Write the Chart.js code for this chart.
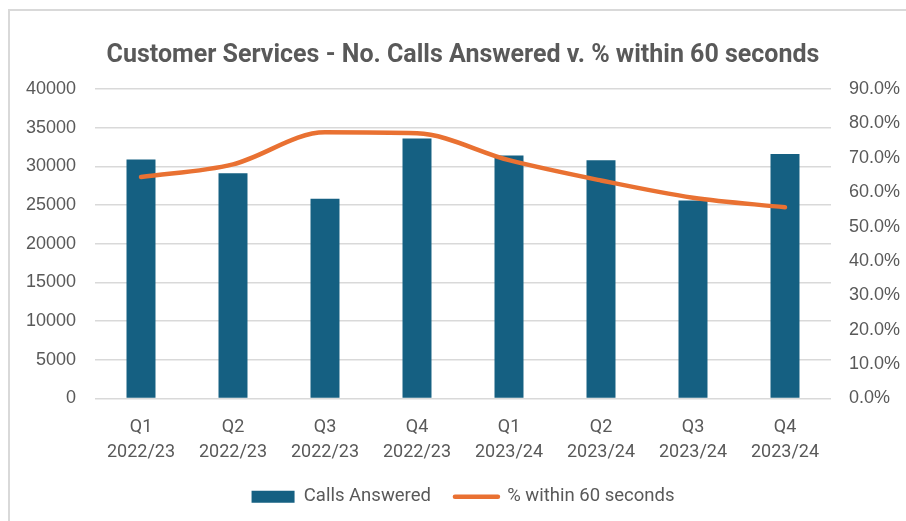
<!DOCTYPE html>
<html>
<head>
<meta charset="utf-8">
<script src="https://cdn.jsdelivr.net/npm/chart.js@4"></script>
<style>
  html, body { margin: 0; padding: 0; background: #fff; }
  #wrap { position: relative; width: 906px; height: 521px; overflow: hidden; }
  #frame { position: absolute; left: 8px; top: 9px; width: 1000px; height: 1000px; border: 2px solid #d9d9d9; pointer-events: none; }
  canvas { position: absolute; left: 0; top: 0; }
</style>
</head>
<body>
<div id="wrap">
  <div id="frame"></div>
  <canvas id="chart" width="906" height="521"></canvas>
</div>
<script>
const quarters = ['Q1', 'Q2', 'Q3', 'Q4', 'Q1', 'Q2', 'Q3', 'Q4'];
const years = ['2022/23', '2022/23', '2022/23', '2022/23', '2023/24', '2023/24', '2023/24', '2023/24'];
const callsAnswered = [30900, 29100, 25800, 33600, 31400, 30800, 25600, 31600];
const pctWithin60 = [0.644, 0.681, 0.774, 0.771, 0.693, 0.634, 0.584, 0.556];
const leftTicks = [0, 40000, 5000];
const rightTicks = [0, 0.9, 0.1];

const textGrey = '#595959';
const gridGrey = '#d9d9d9';

const ctx = document.getElementById('chart');
new Chart(ctx, {
  type: 'bar',
  data: {
    labels: quarters.map((q, i) => [q, years[i]]),
    datasets: [
      {
        type: 'bar',
        label: 'Calls Answered',
        data: callsAnswered,
        backgroundColor: '#156082',
        yAxisID: 'y',
        barPercentage: 0.315,
        categoryPercentage: 1,
        order: 2
      },
      {
        type: 'line',
        label: '% within 60 seconds',
        data: pctWithin60,
        borderColor: '#E97132',
        backgroundColor: '#E97132',
        borderWidth: 4.5,
        borderCapStyle: 'round',
        cubicInterpolationMode: 'monotone',
        pointRadius: 0,
        yAxisID: 'y1',
        order: 1
      }
    ]
  },
  options: {
    responsive: false,
    animation: false,
    layout: { padding: { left: 20, right: 0, top: 0, bottom: 5 } },
    plugins: {
      title: {
        display: true,
        text: 'Customer Services - No. Calls Answered v. % within 60 seconds',
        color: textGrey,
        font: { family: 'Roboto', size: 25, weight: 'bold' },
        padding: { top: 41, bottom: 18 }
      },
      legend: {
        position: 'bottom',
        labels: {
          color: textGrey,
          font: { family: 'Roboto', size: 18.5 },
          usePointStyle: true,
          pointStyleWidth: 43,
          boxHeight: 12,
          padding: 24,
          sort: (a, b) => a.datasetIndex - b.datasetIndex,
          generateLabels: (chart) => {
            const items = Chart.defaults.plugins.legend.labels.generateLabels(chart);
            items.forEach((item) => {
              if (item.datasetIndex === 0) {
                item.pointStyle = 'rect';
                item.lineWidth = 0;
              } else {
                item.pointStyle = 'line';
                item.lineWidth = 4.5;
                item.lineCap = 'round';
              }
            });
            return items;
          }
        }
      },
      tooltip: { enabled: false }
    },
    scales: {
      x: {
        afterFit: (scale) => { scale.height = 65; },
        grid: { display: false, drawTicks: false },
        border: { display: false },
        ticks: {
          color: textGrey,
          font: { family: 'Roboto', size: 18, lineHeight: 1.39 },
          padding: 16,
          maxRotation: 0
        }
      },
      y: {
        position: 'left',
        min: leftTicks[0],
        max: leftTicks[1],
        afterFit: (scale) => { scale.width = 75; },
        ticks: {
          stepSize: leftTicks[2],
          color: textGrey,
          font: { family: 'Liberation Sans', size: 18 },
          padding: 19,
          callback: (v) => String(v)
        },
        grid: { color: gridGrey, lineWidth: 1.5, drawTicks: false },
        border: { display: false }
      },
      y1: {
        position: 'right',
        min: rightTicks[0],
        max: rightTicks[1],
        afterFit: (scale) => { scale.width = 75; },
        ticks: {
          stepSize: rightTicks[2],
          color: textGrey,
          font: { family: 'Liberation Sans', size: 18 },
          padding: 18,
          callback: (v) => (v * 100).toFixed(1) + '%'
        },
        grid: { display: false, drawTicks: false },
        border: { display: false }
      }
    }
  }
});
</script>
</body>
</html>
